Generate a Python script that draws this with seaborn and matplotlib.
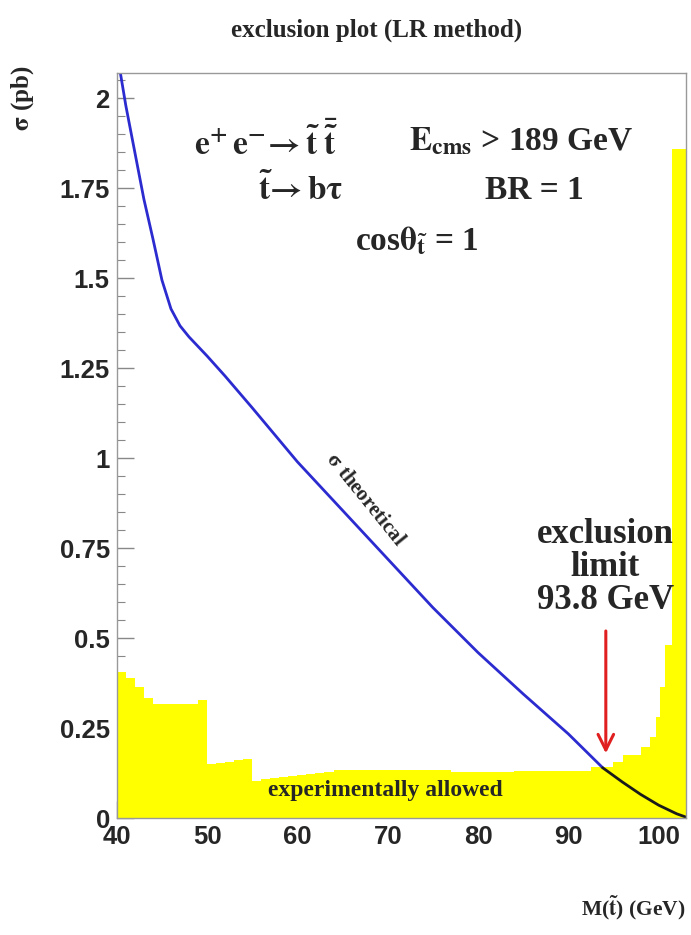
import numpy as np
import pandas as pd
import matplotlib
matplotlib.use('Agg')
import matplotlib.pyplot as plt
import seaborn as sns

sns.set_theme(style='ticks')
plt.rcParams['font.family'] = ['Liberation Serif', 'DejaVu Serif']
plt.rcParams['mathtext.fontset'] = 'stix'

# theoretical cross section sigma(M) in pb
mass_theo = [40, 41, 42, 43, 44, 45, 46, 47, 48, 50, 52, 55, 58, 60, 65, 70,
             75, 80, 85, 90, 93.8, 96, 98, 100, 102, 103]
sigma_theo = [2.13, 1.98, 1.85, 1.72, 1.61, 1.495, 1.415, 1.368, 1.337, 1.284,
              1.228, 1.14, 1.05, 0.99, 0.855, 0.72, 0.585, 0.46, 0.345, 0.234, 0.14,
              0.10, 0.066, 0.036, 0.012, 0.003]

# experimental upper limit (histogram bin edges and contents)
limit_edges = [40, 41, 42, 43, 44, 49, 50, 51, 52, 53, 54, 55, 56, 57, 58, 59, 60,
               61, 62, 63, 64, 77, 84, 92.5, 95, 96, 98, 99, 99.7, 100.2, 100.7,
               101.5, 103]
limit_vals = [0.405, 0.39, 0.365, 0.335, 0.318, 0.328, 0.15, 0.153, 0.157, 0.161,
              0.165, 0.104, 0.108, 0.111, 0.114, 0.117, 0.12, 0.123, 0.126, 0.129,
              0.133, 0.127, 0.13, 0.142, 0.156, 0.175, 0.198, 0.226, 0.28, 0.365,
              0.48, 1.86]

m_excl = 93.8

edges = np.array(limit_edges)
hist = pd.DataFrame({'m': (edges[:-1] + edges[1:]) / 2, 'w': limit_vals})
theo = pd.DataFrame({'m': mass_theo, 'sigma': sigma_theo})

fig = plt.figure(figsize=(6.91, 9.35), dpi=100)
ax = fig.add_axes([0.169, 0.125, 0.8234, 0.7968])

sns.histplot(data=hist, x='m', weights='w', bins=limit_edges, element='step',
             fill=True, color='#ffff00', alpha=1, linewidth=0, ax=ax)

above = theo[theo['m'] <= m_excl]
below = theo[theo['m'] >= m_excl]
sns.lineplot(data=above, x='m', y='sigma', color='#2b2bd0', lw=2, ax=ax)
sns.lineplot(data=below, x='m', y='sigma', color='#1a1a1a', lw=2, ax=ax)

ax.set_xlim(40, 103)
ax.set_ylim(0, 2.07)
ax.set_xticks(np.arange(40, 101, 10))
ax.set_xticks(np.arange(40, 103, 2), minor=True)
ax.set_yticks(np.arange(0, 2.01, 0.25))
ax.set_yticks(np.arange(0, 2.06, 0.05), minor=True)
ax.set_yticklabels(['0', '0.25', '0.5', '0.75', '1', '1.25', '1.5', '1.75', '2'])
ax.tick_params(axis='both', which='both', direction='in', color='#888888')
ax.tick_params(which='major', length=12, width=1)
ax.tick_params(which='minor', length=6, width=0.8)
for lab in ax.get_xticklabels() + ax.get_yticklabels():
    lab.set_fontfamily('Liberation Sans')
    lab.set_fontweight('bold')
    lab.set_fontsize(18.5)
ax.tick_params(axis='x', pad=5)
ax.tick_params(axis='y', pad=5)
for s in ax.spines.values():
    s.set_color('#999999')
    s.set_linewidth(1)

ax.set_xlabel(r'M($\mathbf{\tilde{t}}$) (GeV)', fontsize=15.5, fontweight='bold',
              loc='right', labelpad=32)
ax.set_ylabel('')
fig.text(0.032, 0.93, r'$\mathbf{\sigma}$ (pb)', rotation=90, ha='center', va='top',
         fontsize=18, fontweight='bold')
fig.suptitle('exclusion plot (LR method)', x=0.545, y=0.98, fontsize=18,
             fontweight='bold')

kw = dict(fontsize=24, fontweight='bold')
ax.text(48.6, 1.88, r'$\mathbf{e^{+}\,e^{-}\!\rightarrow \tilde{t}\;\bar{\tilde{t}}}$',
        ha='left', va='center', **kw)
ax.text(72.4, 1.88, r'$\mathbf{E_{cms}}$ > 189 GeV', ha='left', va='center', **kw)
ax.text(55.6, 1.745, r'$\mathbf{\tilde{t}\!\rightarrow b\tau}$', ha='left', va='center', **kw)
ax.text(80.8, 1.745, 'BR = 1', ha='left', va='center', **kw)
ax.text(66.4, 1.605, r'cos$\mathbf{\theta_{\tilde{t}}}$ = 1', ha='left', va='center', **kw)

ax.text(94.1, 0.695, 'exclusion\nlimit\n93.8 GeV', ha='center', va='center',
        fontsize=25, fontweight='bold', linespacing=1.0)
ax.text(67.5, 0.885, r'$\mathbf{\sigma}$ theoretical', rotation=-51, ha='center',
        va='center', fontsize=15, fontweight='bold', rotation_mode='anchor')
ax.text(69.7, 0.078, 'experimentally allowed', ha='center', va='center',
        fontsize=17, fontweight='bold')

ax.annotate('', xy=(94.15, 0.18), xytext=(94.15, 0.52),
            arrowprops=dict(arrowstyle='->', color='#e02020', lw=2.2,
                            mutation_scale=28, shrinkA=0, shrinkB=0))

fig.savefig('out.png', dpi=100)
